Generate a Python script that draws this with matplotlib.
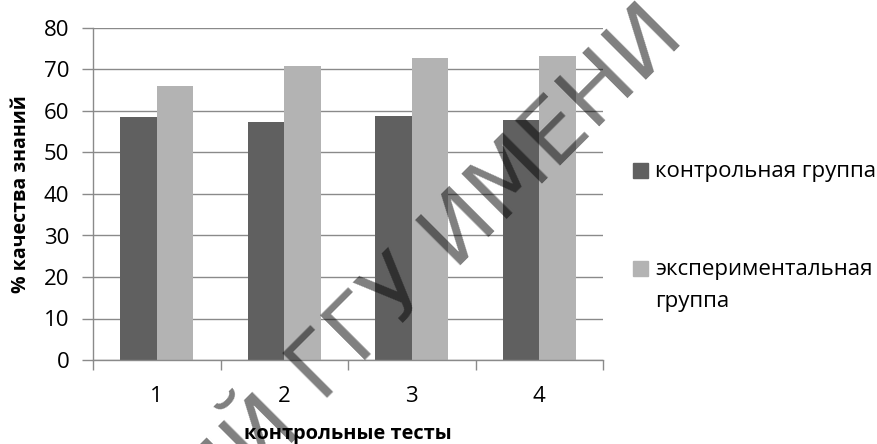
import matplotlib
matplotlib.use("Agg")
import matplotlib.pyplot as plt
import numpy as np
from matplotlib.patches import Rectangle

# контрольные тесты 1-4, % качества знаний
tests = ["1", "2", "3", "4"]
control = [58.6, 57.3, 58.7, 57.8]
experiment = [66.0, 70.8, 72.7, 73.3]
series_names = ["контрольная группа", "экспериментальная\nгруппа"]
y_ticks = [0, 10, 20, 30, 40, 50, 60, 70, 80]

dark = "#606060"
light = "#b3b3b3"
grid_c = "#8a8a8a"

plt.rcParams["font.family"] = ["Open Sans", "DejaVu Sans"]

W, H = 877, 444
fig = plt.figure(figsize=(W / 100, H / 100), dpi=100)
ax = fig.add_axes([93 / W, (H - 360) / H, (603 - 93) / W, (360 - 28) / H])

x = np.arange(1, len(tests) + 1)
bw = 0.286
ax.bar(x - bw / 2, control, bw, color=dark, zorder=2)
ax.bar(x + bw / 2, experiment, bw, color=light, zorder=2)

ax.set_xlim(0.5, len(tests) + 0.5)
ax.set_ylim(0, 80)
ax.set_yticks(y_ticks)
ax.yaxis.grid(True, color=grid_c, lw=1, zorder=0)
ax.set_axisbelow(True)

# category boundaries carry the tick marks, labels sit on the centres
ax.set_xticks(np.arange(0.5, len(tests) + 1, 1.0))
ax.set_xticklabels([])
ax.set_xticks(x, minor=True)
ax.set_xticklabels(tests, minor=True)
ax.tick_params(axis="x", which="major", length=7, width=1, color=grid_c, direction="out")
ax.tick_params(axis="x", which="minor", length=0, pad=19, labelsize=16)
ax.tick_params(axis="y", length=8, width=1, color=grid_c, labelsize=16, pad=9)

for s in ["top", "right"]:
    ax.spines[s].set_visible(False)
for s in ["left", "bottom"]:
    ax.spines[s].set_color(grid_c)
    ax.spines[s].set_linewidth(1)

ax.set_ylabel("% качества знаний", fontsize=14, fontweight="bold", labelpad=9)
ax.set_xlabel("контрольные тесты", fontsize=14.4, fontweight="bold", labelpad=12)

# legend to the right of the plot: square swatch, label lines next to it
legend_rows = [[170], [268, 300]]
for name, color, rows in zip(series_names, [dark, light], legend_rows):
    y0 = rows[0]
    fig.add_artist(Rectangle((633 / W, 1 - (y0 + 7.5) / H), 15 / W, 15 / H,
                             transform=fig.transFigure, color=color))
    for line, yy in zip(name.split("\n"), rows):
        fig.text(655 / W, 1 - (yy + 1) / H, line, fontsize=16, ha="left", va="center")

# repository watermark running across the chart
wm_kw = dict(rotation=45, rotation_mode="anchor", fontsize=63,
             color="black", alpha=0.5, family="DejaVu Sans", va="baseline")
fig.text(322 / W, 1 - 404 / H, "ГГУ ИМЕНИ", ha="left", **wm_kw)
fig.text(302 / W, 1 - 424 / H, "ИЙ", ha="right", **wm_kw)

fig.savefig("out.png", dpi=100)
